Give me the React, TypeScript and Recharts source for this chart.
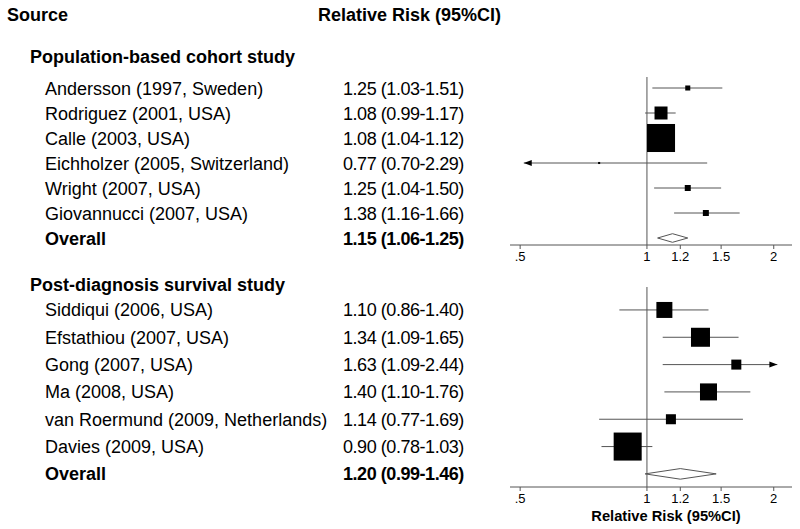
import React from "react";
import { ComposedChart, Scatter, XAxis, YAxis, ReferenceLine } from "recharts";

// Population-based cohort studies
const cohortSources = [
  "Andersson (1997, Sweden)",
  "Rodriguez (2001, USA)",
  "Calle (2003, USA)",
  "Eichholzer (2005, Switzerland)",
  "Wright (2007, USA)",
  "Giovannucci (2007, USA)",
];
const cohortRR = [1.25, 1.08, 1.08, 0.77, 1.25, 1.38];
const cohortLow = [1.03, 0.99, 1.04, 0.7, 1.04, 1.16];
const cohortHigh = [1.51, 1.17, 1.12, 2.29, 1.5, 1.66];
// interval as drawn in the plot (Eichholzer's bar differs from its printed label)
const cohortPlotLow = [1.03, 0.99, 1.04, 0.43, 1.04, 1.16];
const cohortPlotHigh = [1.51, 1.17, 1.12, 1.39, 1.5, 1.66];
const cohortWeight = [2.4, 16, 74.4, 0.4, 3.4, 3.4];
const cohortOverall = [1.15, 1.06, 1.25];

// Post-diagnosis survival studies
const survivalSources = [
  "Siddiqui (2006, USA)",
  "Efstathiou (2007, USA)",
  "Gong (2007, USA)",
  "Ma (2008, USA)",
  "van Roermund (2009, Netherlands)",
  "Davies (2009, USA)",
];
const survivalRR = [1.1, 1.34, 1.63, 1.4, 1.14, 0.9];
const survivalLow = [0.86, 1.09, 1.09, 1.1, 0.77, 0.78];
const survivalHigh = [1.4, 1.65, 2.44, 1.76, 1.69, 1.03];
const survivalWeight = [13.5, 19.1, 5.3, 15.3, 5.3, 41.5];
const survivalOverall = [1.2, 0.99, 1.46];

const xTicks = [0.5, 1, 1.2, 1.5, 2];
const X_DOMAIN = [0.473, 2.21];
const ARROW_MIN = 0.51;
const ARROW_MAX = 2.04;

const FONT = "'Liberation Sans', Arial, Helvetica, sans-serif";
const GREY = "#555";

const fmt = (v: number) => v.toFixed(2);
const ciText = (rr: number, lo: number, hi: number) => `${fmt(rr)} (${fmt(lo)}-${fmt(hi)})`;

interface PanelProps {
  top: number;
  height: number;
  marginTop: number;
  axisHeight: number;
  yDomain: number[];
  sources: string[];
  rr: number[];
  low: number[];
  high: number[];
  plotLow: number[];
  plotHigh: number[];
  weight: number[];
  overall: number[];
  boxScale: number;
  diamondHalf: number;
  showTitle?: boolean;
}

function CILine(props: any) {
  const { x1, y1, x2, y2, arrowLeft, arrowRight } = props;
  return (
    <g>
      <line x1={x1} y1={y1} x2={x2} y2={y2} stroke={GREY} strokeWidth={1} />
      {arrowLeft && <polygon points={`${x1},${y1} ${x1 + 8},${y1 - 3} ${x1 + 8},${y1 + 3}`} fill="#000" />}
      {arrowRight && <polygon points={`${x2},${y2} ${x2 - 8},${y2 - 3} ${x2 - 8},${y2 + 3}`} fill="#000" />}
    </g>
  );
}

function Box(props: any) {
  const { cx, cy, payload } = props;
  const s = payload.side;
  return <rect x={cx - s / 2} y={cy - s / 2} width={s} height={s} fill="#000" />;
}

function Panel(p: PanelProps) {
  const rows = p.sources.map((name, i) => ({
    x: p.rr[i],
    y: i,
    side: p.boxScale * Math.sqrt(p.weight[i]),
  }));
  const n = p.sources.length;
  const plotH = p.height - p.marginTop - p.axisHeight;
  const rowPx = plotH / (p.yDomain[1] - p.yDomain[0]);
  const h = p.diamondHalf / rowPx;
  const [est, lo, hi] = p.overall;
  const diamond = [
    { x: lo, y: n },
    { x: est, y: n - h },
    { x: hi, y: n },
    { x: est, y: n + h },
    { x: lo, y: n },
  ];

  const renderRowLabel = (tp: any) => {
    const i = tp.payload.value;
    const by = tp.y + 6.5;
    if (i === n) {
      return (
        <g>
          <text x={45} y={by} fontFamily={FONT} fontSize={18} fontWeight="bold" fill="#000">Overall</text>
          <text x={343} y={by} fontFamily={FONT} fontSize={18} fontWeight="bold" letterSpacing={-0.45} fill="#000">
            {ciText(est, lo, hi)}
          </text>
        </g>
      );
    }
    return (
      <g>
        <text x={45} y={by} fontFamily={FONT} fontSize={18} fill="#000">{p.sources[i]}</text>
        <text x={343} y={by} fontFamily={FONT} fontSize={18} letterSpacing={-0.45} fill="#000">
          {ciText(p.rr[i], p.low[i], p.high[i])}
        </text>
      </g>
    );
  };

  return (
    <div style={{ position: "absolute", left: 0, top: p.top }}>
      <ComposedChart width={800} height={p.height} margin={{ top: p.marginTop, right: 8, bottom: 0, left: 0 }}>
        <XAxis
          type="number"
          dataKey="x"
          scale="log"
          domain={X_DOMAIN}
          allowDataOverflow
          ticks={xTicks}
          interval={0}
          tickFormatter={(v: number) => (v === 0.5 ? ".5" : String(v))}
          tick={{ fontSize: 13, fill: "#000", fontFamily: FONT }}
          tickSize={4}
          tickMargin={3}
          axisLine={{ stroke: GREY }}
          tickLine={{ stroke: GREY }}
          height={p.axisHeight}
          label={
            p.showTitle
              ? {
                  content: (lp: any) => {
                    const vb = lp.viewBox;
                    return (
                      <text
                        x={vb.x + vb.width / 2 + 15}
                        y={vb.y + 33.5}
                        textAnchor="middle"
                        fontFamily={FONT}
                        fontSize={14.7}
                        fontWeight="bold"
                        fill="#000"
                      >
                        Relative Risk (95%CI)
                      </text>
                    );
                  },
                }
              : undefined
          }
        />
        <YAxis
          type="number"
          dataKey="y"
          domain={p.yDomain}
          reversed
          allowDataOverflow
          ticks={[...p.sources.map((_, i) => i), n]}
          interval={0}
          width={510}
          axisLine={false}
          tickLine={false}
          tick={renderRowLabel}
        />
        <ReferenceLine x={1} stroke={GREY} strokeWidth={1} ifOverflow="visible" />
        {rows.map((r, i) => {
          const a = Math.max(p.plotLow[i], ARROW_MIN);
          const b = Math.min(p.plotHigh[i], ARROW_MAX);
          const arrowLeft = p.plotLow[i] < ARROW_MIN;
          const arrowRight = p.plotHigh[i] > ARROW_MAX;
          return (
            <ReferenceLine
              key={i}
              segment={[{ x: a, y: i }, { x: b, y: i }]}
              ifOverflow="visible"
              shape={(sp: any) => <CILine {...sp} arrowLeft={arrowLeft} arrowRight={arrowRight} />}
            />
          );
        })}
        <Scatter data={rows} shape={<Box />} isAnimationActive={false} />
        <Scatter
          data={diamond}
          line={{ stroke: GREY, strokeWidth: 1 }}
          shape={() => <g />}
          isAnimationActive={false}
        />
      </ComposedChart>
    </div>
  );
}

export default function App() {
  return (
    <div style={{ position: "absolute", left: 0, top: 0, width: 800, height: 529, background: "#fff" }}>
      <svg width={800} height={529} style={{ position: "absolute", left: 0, top: 0 }}>
        <text x={7} y={20.5} fontFamily={FONT} fontSize={18} fontWeight="bold">Source</text>
        <text x={318} y={20.5} fontFamily={FONT} fontSize={18} fontWeight="bold">Relative Risk (95%CI)</text>
        <text x={30} y={62.5} fontFamily={FONT} fontSize={18} fontWeight="bold">Population-based cohort study</text>
        <text x={30} y={291} fontFamily={FONT} fontSize={18} fontWeight="bold">Post-diagnosis survival study</text>
      </svg>
      <Panel
        top={0}
        height={270}
        marginTop={77}
        axisHeight={25}
        yDomain={[-0.44, 6.28]}
        sources={cohortSources}
        rr={cohortRR}
        low={cohortLow}
        high={cohortHigh}
        plotLow={cohortPlotLow}
        plotHigh={cohortPlotHigh}
        weight={cohortWeight}
        overall={cohortOverall}
        boxScale={3.25}
        diamondHalf={4.3}
      />
      <Panel
        top={270}
        height={259}
        marginTop={17}
        axisHeight={42}
        yDomain={[-0.84, 6.48]}
        sources={survivalSources}
        rr={survivalRR}
        low={survivalLow}
        high={survivalHigh}
        plotLow={survivalLow}
        plotHigh={survivalHigh}
        weight={survivalWeight}
        overall={survivalOverall}
        boxScale={4.35}
        diamondHalf={5.3}
        showTitle
      />
    </div>
  );
}
